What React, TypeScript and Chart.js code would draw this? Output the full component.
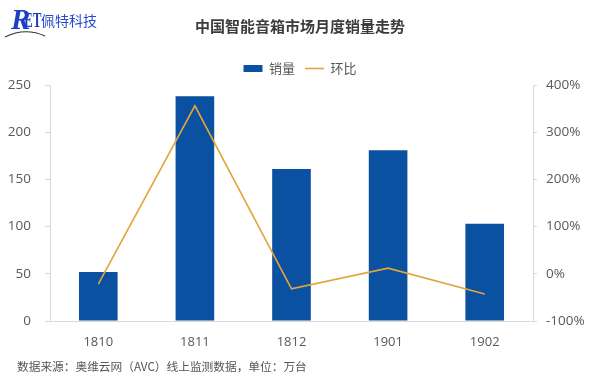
import React, { useEffect, useRef } from "react";
import { Chart, registerables } from "chart.js";

Chart.register(...registerables);

const categories = ["1810", "1811", "1812", "1901", "1902"];
const salesValues = [52, 238, 161, 181, 103];
const momValues = [-22, 356, -32, 12, -43];
const leftTicks = [0, 50, 100, 150, 200, 250];
const rightTicks = [-100, 0, 100, 200, 300, 400];

const FONT = '"Open Sans", "Noto Sans CJK SC", sans-serif';
const CJK = '"Noto Sans CJK SC", "Open Sans", sans-serif';

export default function App() {
  const ref = useRef<HTMLCanvasElement | null>(null);

  useEffect(() => {
    if (!ref.current) return;
    const chart = new Chart(ref.current, {
      data: {
        labels: categories,
        datasets: [
          {
            type: "line",
            label: "环比",
            data: momValues,
            yAxisID: "y1",
            borderColor: "#e3a53a",
            backgroundColor: "#e3a53a",
            borderWidth: 1.6,
            pointRadius: 0,
            pointStyle: "line",
            tension: 0,
            order: 0,
          },
          {
            type: "bar",
            label: "销量",
            data: salesValues,
            yAxisID: "y",
            backgroundColor: "#0b51a1",
            borderWidth: 0,
            pointStyle: "rect",
            categoryPercentage: 1,
            barPercentage: 0.4,
            order: 1,
          },
        ],
      },
      options: {
        responsive: false,
        animation: false,
        layout: { padding: { left: 0, right: 0, top: 1, bottom: 0 } },
        font: { family: FONT },
        plugins: {
          title: {
            display: true,
            text: "中国智能音箱市场月度销量走势",
            color: "#3c3c3c",
            font: { family: CJK, size: 15, weight: "bold" },
            padding: { top: 16, bottom: 17 },
          },
          legend: {
            display: true,
            reverse: true,
            labels: {
              usePointStyle: true,
              pointStyleWidth: 19,
              boxHeight: 7,
              color: "#595959",
              font: { family: CJK, size: 13 },
              padding: 10,
            },
          },
          tooltip: { enabled: false },
        },
        scales: {
          x: {
            grid: { display: false, drawTicks: false },
            border: { display: true, color: "#d9d9d9" },
            ticks: { color: "#595959", font: { family: FONT, size: 13 }, padding: 13 },
            afterFit: (s: any) => {
              s.height = 62;
            },
          },
          y: {
            position: "left",
            min: 0,
            max: 250,
            afterBuildTicks: (s: any) => {
              s.ticks = leftTicks.map((v) => ({ value: v }));
            },
            grid: { drawOnChartArea: false, drawTicks: true, tickLength: 5, color: "#d9d9d9" },
            border: { display: true, color: "#d9d9d9" },
            ticks: { color: "#595959", font: { family: FONT, size: 13.5 }, padding: 14 },
            afterFit: (s: any) => {
              s.width = 50;
            },
          },
          y1: {
            position: "right",
            min: -100,
            max: 400,
            afterBuildTicks: (s: any) => {
              s.ticks = rightTicks.map((v) => ({ value: v }));
            },
            grid: { drawOnChartArea: false, drawTicks: true, tickLength: 4, color: "#d9d9d9" },
            border: { display: true, color: "#d9d9d9" },
            ticks: {
              color: "#595959",
              font: { family: FONT, size: 13.5 },
              padding: 9,
              callback: (v: any) => v + "%",
            },
            afterFit: (s: any) => {
              s.width = 67;
            },
          },
        },
      },
    } as any);
    return () => chart.destroy();
  }, []);

  return (
    <div style={{ position: "fixed", left: 0, top: 0, width: 600, height: 383, background: "#fff", overflow: "hidden" }}>
      <canvas ref={ref} width={600} height={383} style={{ position: "absolute", left: 0, top: 0 }} />
      <div style={{ position: "absolute", left: 0, top: 0, height: 40, width: 110 }}>
        <span
          style={{
            position: "absolute",
            left: 11,
            top: 4,
            fontFamily: '"Liberation Serif", serif',
            fontStyle: "italic",
            fontWeight: "bold",
            fontSize: 29,
            color: "#1c3fc4",
            lineHeight: "30px",
          }}
        >
          R
        </span>
        <span
          style={{
            position: "absolute",
            left: 24,
            top: 9,
            fontFamily: '"Liberation Serif", serif',
            fontWeight: "bold",
            fontSize: 21,
            color: "#1c3fc4",
            lineHeight: "22px",
            transform: "scaleX(0.62)",
            transformOrigin: "left center",
          }}
        >
          ET
        </span>
        <span
          style={{
            position: "absolute",
            left: 41,
            top: 10,
            fontFamily: CJK,
            fontSize: 14,
            color: "#2a49c8",
            lineHeight: "20px",
          }}
        >
          佩特科技
        </span>
        <svg width={50} height={12} style={{ position: "absolute", left: 3, top: 27 }}>
          <path d="M2 10 Q22 0 42 9" stroke="#333" strokeWidth={1.2} fill="none" />
        </svg>
      </div>
      <div
        style={{
          position: "absolute",
          left: 17,
          top: 358,
          fontFamily: CJK,
          fontSize: 11.7,
          color: "#555",
          whiteSpace: "nowrap",
          lineHeight: "16px",
        }}
      >
        数据来源：奥维云网（AVC）线上监测数据，单位：万台
      </div>
    </div>
  );
}
